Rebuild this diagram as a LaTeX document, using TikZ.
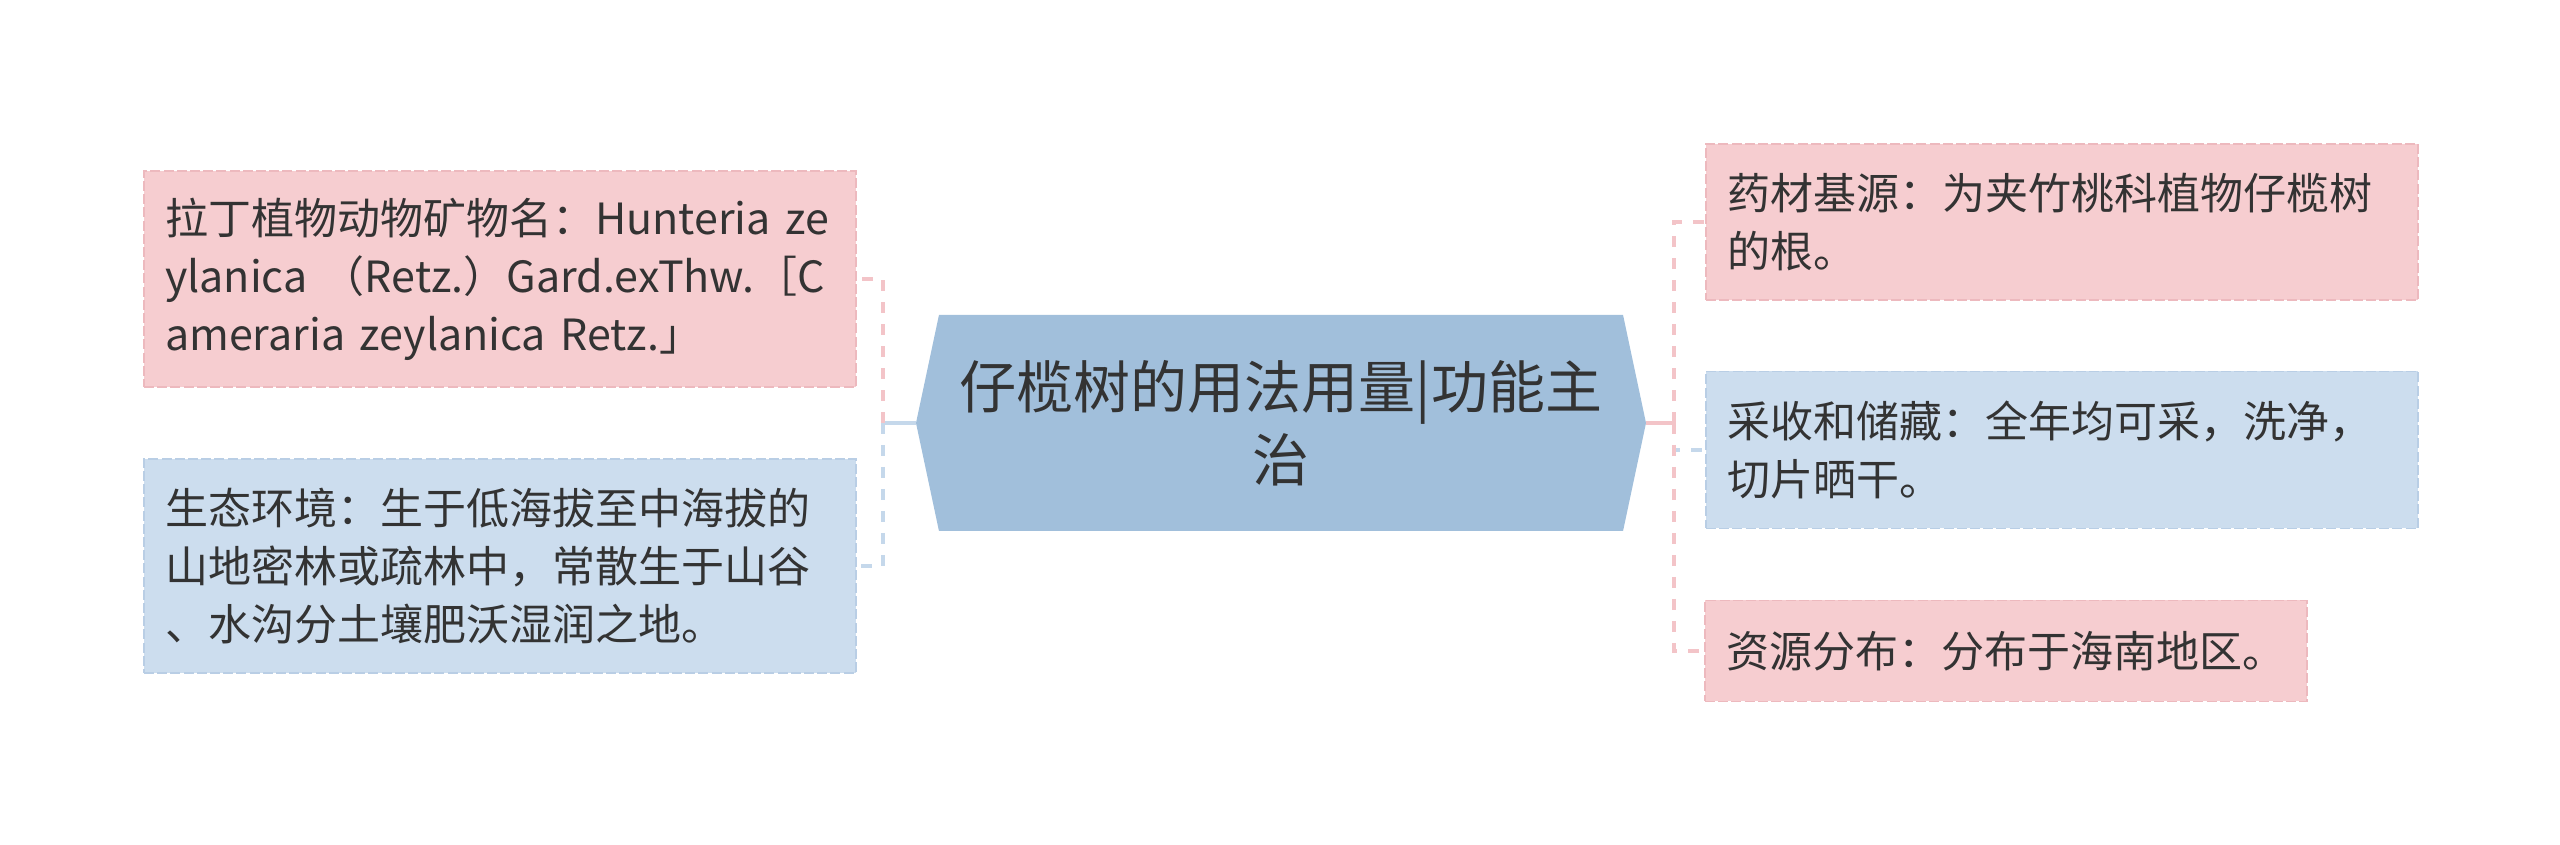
\documentclass[tikz,border=0pt]{standalone}
\usepackage{fontspec}
\newfontfamily\cjk{Noto Sans CJK SC}
\usetikzlibrary{positioning,shapes.symbols}

\definecolor{pinkfill}{HTML}{F6CDD0}
\definecolor{pinkedge}{HTML}{EDB9BE}
\definecolor{bluefill}{HTML}{CCDDEE}
\definecolor{blueedge}{HTML}{B9CEE5}
\definecolor{hubblue}{HTML}{A1BFDB}
\definecolor{textgray}{HTML}{333333}
\definecolor{pinkconn}{HTML}{F3C4C8}
\definecolor{blueconn}{HTML}{C5D8EB}

\tikzstyle{leaf} = [rectangle, text width=335pt, inner xsep=10.5pt, inner ysep=4pt, align=left, text=textgray, font=\cjk\fontsize{21.5}{29}\selectfont, dash pattern=on 5pt off 1.6pt, line width=0.9pt]
\tikzstyle{pinkbox} = [leaf, fill=pinkfill, draw=pinkedge]
\tikzstyle{bluebox} = [leaf, fill=bluefill, draw=blueedge]
\tikzstyle{hub} = [signal, signal to=west and east, signal pointer angle=156, fill=hubblue, minimum height=108pt, minimum width=365pt, text width=322pt, inner sep=0pt, align=center, text=textgray, font=\cjk\fontsize{28.5}{36.5}\selectfont]
\tikzstyle{pinkline} = [draw=pinkconn, line width=2pt, dash pattern=on 5.5pt off 5.5pt]
\tikzstyle{blueline} = [draw=blueconn, line width=2pt, dash pattern=on 5.5pt off 5.5pt]

\begin{document}
\begin{tikzpicture}[x=1pt, y=1pt, node distance=390.5pt]
	\useasboundingbox (0,0) rectangle (1280,422.5);
	% Place nodes
	\node [hub] (hub) at (640.5,211) {仔榄树的用法用量|功能主\\治};
	\node [pinkbox, left of=hub, yshift=72pt, minimum height=108pt] (latin) {拉丁植物动物矿物名：Hunteria ze\\ylanica （Retz.）Gard.exThw.［C\\ameraria zeylanica Retz.」};
	\node [bluebox, left of=hub, yshift=-71.5pt, minimum height=107pt] (habitat) {生态环境：生于低海拔至中海拔的\\山地密林或疏林中，常散生于山谷\\、水沟分土壤肥沃湿润之地。};
	\node [pinkbox, right of=hub, yshift=100.5pt, minimum height=78pt] (source) {药材基源：为夹竹桃科植物仔榄树\\的根。};
	\node [bluebox, right of=hub, yshift=-13.5pt, minimum height=78.5pt] (harvest) {采收和储藏：全年均可采，洗净，\\切片晒干。};
	\node [pinkbox, right of=hub, xshift=-28pt, yshift=-114pt, minimum height=50.5pt, text width=280pt] (range) {资源分布：分布于海南地区。};
	\coordinate (ljoin) at ([xshift=-16.5pt]hub.west);
	\coordinate (rjoin) at ([xshift=14pt]hub.east);
	% Draw edges
	\draw [draw=blueconn, line width=2pt] (hub.west) -- (ljoin);
	\draw [blueline] (ljoin) |- (habitat.east);
	\draw [pinkline] (ljoin) |- (latin.east);
	\draw [draw=pinkconn, line width=2pt] (hub.east) -- (rjoin);
	\draw [blueline] (rjoin) |- (harvest.west);
	\draw [pinkline] (rjoin) |- (source.west);
	\draw [pinkline] (rjoin) |- (range.west);
\end{tikzpicture}
\end{document}
